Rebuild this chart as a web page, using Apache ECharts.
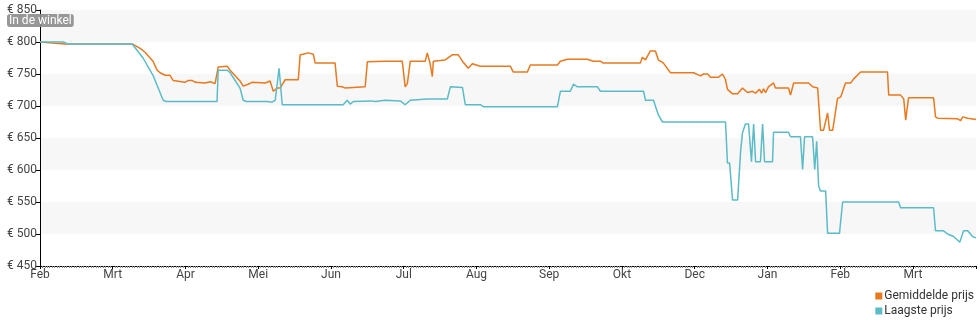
<!DOCTYPE html>
<html>
<head>
<meta charset="utf-8">
<script src="https://cdn.jsdelivr.net/npm/echarts@6/dist/echarts.min.js"></script>
<style>
html,body{margin:0;padding:0;background:#fff;}
#chart{width:980px;height:325px;}
</style>
</head>
<body>
<div id="chart"></div>
<script>
// x positions in days from start (each label step = 30 days)
const monthLabels = ['Feb','Mrt','Apr','Mei','Jun','Jul','Aug','Sep','Okt','Dec','Jan','Feb','Mrt'];
const yTicks = [450,500,550,600,650,700,750,800,850];

const avgDays = [0,10.3,38.0,41.3,43.3,46.6,48.3,49.5,51.6,53.6,54.9,55.7,59.8,61.1,62.7,64.0,68.1,70.2,72.2,73.0,73.5,77.2,78.4,82.5,83.8,85.8,87.5,92.9,94.9,96.2,97.0,97.8,99.0,101.1,106.5,107.3,108.5,110.6,112.7,113.5,121.7,122.6,124.6,125.9,134.1,135.0,142.4,149.4,150.6,151.5,152.7,158.9,159.7,160.9,161.8,162.2,165.1,167.1,170.0,172.5,174.2,176.6,178.3,181.6,194.0,195.2,201.0,202.2,213.4,214.6,217.5,225.7,228.2,231.1,232.3,247.6,248.4,249.7,251.7,253.8,255.0,257.1,260.0,269.5,272.4,273.6,275.3,276.5,279.8,281.5,281.9,282.7,283.5,285.6,287.7,289.7,291.8,293.8,295.1,296.7,297.6,298.4,299.2,300.4,302.5,303.3,308.7,309.5,310.8,317.0,318.6,320.7,321.9,323.1,324.8,325.6,326.9,328.9,330.2,332.2,334.3,335.5,338.4,349.5,350.0,354.9,356.2,357.0,358.2,368.5,369.3,370.2,378.4,379.7,380.5,382.6,386];
const avgVals = [800,797,797,790,784,770,756,752,748,748,740,737,737,740,740,737,736,738,735,737,761,762,756,739,731,734,737,736,739,723,722,728,728,741,741,780,781,783,781,767,767,731,730,728,730,769,770,770,730,735,770,770,783,766,746,770,771,772,780,780,770,759,766,762,762,753,753,764,764,770,773,773,770,770,767,767,776,772,786,786,772,767,752,752,747,750,750,745,745,750,750,741,726,719,719,728,721,723,720,726,720,727,721,730,736,728,728,717,736,736,730,728,662,662,689,662,662,712,714,736,736,742,753,753,717,717,711,678,713,713,683,681,680,677,683,681,679];

const lowDays = [0,9.5,11.6,38.0,42.5,46.6,50.8,52.0,61.9,62.7,63.6,73.0,73.5,77.2,78.4,82.5,83.8,85.0,93.7,95.7,97.0,97.8,98.6,99.9,125.0,126.7,127.9,129.2,136.2,138.3,142.4,148.6,150.6,152.7,159.7,168.0,169.2,174.2,175.4,181.6,182.8,213.4,214.6,218.7,220.0,221.6,229.9,231.1,248.9,249.7,253.0,255.0,256.7,282.7,283.5,284.4,285.6,287.7,288.9,289.7,290.9,292.2,293.4,294.3,295.1,297.1,298.0,298.8,302.1,302.5,308.7,309.5,313.6,314.5,315.3,318.6,319.5,320.3,321.1,321.9,324.0,324.8,329.7,331.0,334.3,335.1,336.3,354.1,354.9,368.5,369.3,372.6,374.3,376.8,379.3,380.9,382.6,384.6,386];
const lowVals = [800,800,797,797,775,748,709,707,707,709,707,707,756,756,752,728,709,707,707,706,709,707,759,702,702,709,703,707,708,707,709,708,702,709,711,711,730,729,702,702,699,699,723,723,734,730,730,723,723,709,709,686,675,675,611,611,553,553,628,658,672,672,613,672,613,613,672,613,613,659,659,652,652,601,652,652,601,645,575,567,567,501,501,550,550,547,550,550,541,541,505,505,500,496,487,505,505,496,494];

const zip = (a, b) => a.map((d, i) => [d, b[i]]);

const chart = echarts.init(document.getElementById('chart'), null, {renderer: 'canvas'});
const font = 'Roboto, "Noto Sans", sans-serif';
chart.setOption({
  animation: false,
  textStyle: {fontFamily: font},
  title: {
    text: 'In de winkel',
    left: 7, top: 14,
    padding: [0, 2, 0, 2],
    backgroundColor: 'rgba(140,140,140,0.9)',
    borderRadius: 3,
    textStyle: {
      fontFamily: font, fontSize: 12, fontWeight: 'normal', color: '#fff', lineHeight: 13
    },
    z: 10
  },
  grid: {left: 40, right: 4, top: 10, bottom: 59},
  legend: {
    orient: 'vertical', right: 6, top: 290, padding: 0,
    itemWidth: 7, itemHeight: 7, itemGap: 3, icon: 'rect',
    textStyle: {fontFamily: font, fontSize: 12, color: '#333', padding: [0, 0, 0, -3]},
    data: ['Gemiddelde prijs', 'Laagste prijs']
  },
  xAxis: {
    type: 'value', min: 0, max: 386, interval: 30,
    axisLine: {lineStyle: {color: '#000', width: 1}},
    axisTick: {show: true, length: 3, lineStyle: {color: '#000'}},
    minorTick: {show: true, splitNumber: 30, length: 2, lineStyle: {color: '#888'}},
    splitLine: {show: false},
    axisLabel: {
      color: '#444', fontSize: 12, margin: 3, fontFamily: font,
      formatter: v => (v % 30 === 0 && v / 30 < monthLabels.length) ? monthLabels[v / 30] : ''
    }
  },
  yAxis: {
    type: 'value', min: 450, max: 850, interval: 50,
    axisLine: {show: true, lineStyle: {color: '#000', width: 1}},
    axisTick: {show: true, length: 4, lineStyle: {color: '#000'}},
    splitLine: {show: false},
    splitArea: {show: true, areaStyle: {color: ['#ffffff', '#f7f7f7']}},
    axisLabel: {
      color: '#444', fontSize: 12, margin: 3, fontFamily: font,
      formatter: v => yTicks.includes(v) ? '€ ' + v : ''
    }
  },
  series: [
    {
      name: 'Gemiddelde prijs', type: 'line', data: zip(avgDays, avgVals),
      showSymbol: false, symbol: 'none', color: '#e8791f',
      lineStyle: {width: 1.5, color: '#e8791f'}, z: 2
    },
    {
      name: 'Laagste prijs', type: 'line', data: zip(lowDays, lowVals),
      showSymbol: false, symbol: 'none', color: '#5bbcc8',
      lineStyle: {width: 1.5, color: '#5bbcc8'}, z: 3
    }
  ]
});
</script>
</body>
</html>
